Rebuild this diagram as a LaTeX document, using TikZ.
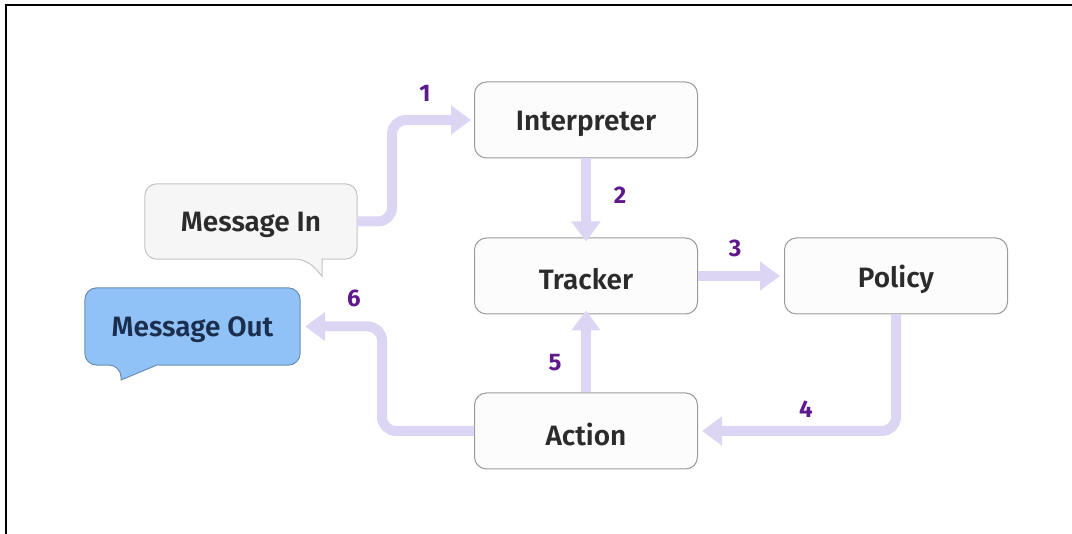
\documentclass[tikz,border=0pt]{standalone}
\usepackage{fontspec}
\setmainfont{Fira Sans}[BoldFont={Fira Sans SemiBold}]
\newfontfamily\numfont{Fira Sans Bold}
\usetikzlibrary{arrows.meta}
\definecolor{lav}{HTML}{DCD6F4}
\definecolor{numc}{HTML}{5E1A8C}
\definecolor{boxb}{HTML}{9A9A9A}
\definecolor{boxf}{HTML}{FCFCFC}
\definecolor{inf}{HTML}{F6F6F6}
\definecolor{inb}{HTML}{C4C4C4}
\definecolor{outf}{HTML}{90C2F7}
\definecolor{outb}{HTML}{6A8DB0}
\definecolor{outt}{HTML}{1B2E4E}
\definecolor{txt}{HTML}{2B2B2B}
\tikzset{
  stepbox/.style={draw=boxb, line width=1pt, fill=boxf, rounded corners=12pt,
    minimum width=223pt, minimum height=76pt, inner sep=0pt,
    font=\bfseries\fontsize{28}{32}\selectfont, text=txt},
  bubble/.style={minimum width=212pt, minimum height=75pt, inner sep=0pt,
    font=\bfseries\fontsize{28}{32}\selectfont},
  lbl/.style={font=\bfseries\fontsize{28}{32}\selectfont, inner sep=0pt},
  flow/.style={draw=lav, line width=10pt, rounded corners=14pt,
    -{Triangle[width=28pt,length=20pt]}},
  num/.style={text=numc, font=\numfont\fontsize{24}{28}\selectfont}
}
\begin{document}
\begin{tikzpicture}[x=1pt,y=-1pt]
\useasboundingbox (0,0) rectangle (1072,534);
\draw[line width=2pt,black] (6,534) -- (6,5) -- (1072,5);

\node[stepbox] (interp) at (586,120) {};
\node[stepbox] (tracker) at (586,276) {};
\node[stepbox] (policy) at (896,276) {};
\node[stepbox] (action) at (586,431) {};
\node[lbl, text=txt] at ([yshift=-4pt]interp.center) {Interpreter};
\node[lbl, text=txt] at ([yshift=-3pt]tracker.center) {Tracker};
\node[lbl, text=txt] at ([yshift=-3pt]policy.center) {Policy};
\node[lbl, text=txt] at ([yshift=-3pt]action.center) {Action};

\node[bubble] (min) at (251,221.5) {};
\draw[draw=inb, fill=inf, line width=1pt, rounded corners=12pt]
  (322,259) -- (min.south east) -- (min.north east) -- (min.north west) -- (min.south west) -- (307,259)
  [sharp corners] -- (322,276) -- cycle;
\node[lbl, text=txt] at ([yshift=-3pt]min.center) {Message In};

\node[bubble, minimum width=215pt, minimum height=77pt] (mout) at (192.5,326.5) {};
\draw[draw=outb, fill=outf, line width=1pt, rounded corners=12pt]
  (157,365) -- (mout.south east) -- (mout.north east) -- (mout.north west) -- (mout.south west) -- (121,365)
  [sharp corners] -- (121,380) -- cycle;
\node[lbl, text=outt] at ([yshift=-3pt]mout.center) {Message Out};

\coordinate (c1) at (392,221.5);
\draw[flow] (min.east) -- (c1) |- ([xshift=-3pt]interp.west);
\draw[flow, rounded corners=0pt] (interp.south) -- ([yshift=-4pt]tracker.north);
\draw[flow, rounded corners=0pt] (tracker.east) -- ([xshift=-4pt]policy.west);
\draw[flow] (policy.south) |- ([xshift=4pt]action.east);
\draw[flow, rounded corners=0pt] (action.north) -- ([yshift=4pt]tracker.south);
\coordinate (c6) at (382,431);
\draw[flow] (action.west) -- (c6) |- ([xshift=5pt]mout.east);

\node[num] (n1) at (425,93) {1};
\node[num] (n2) at (620,195) {2};
\node[num] (n3) at (735,248) {3};
\node[num] (n4) at (806,409) {4};
\node[num] (n5) at (555,363) {5};
\node[num] (n6) at (354,298) {6};
\end{tikzpicture}
\end{document}
